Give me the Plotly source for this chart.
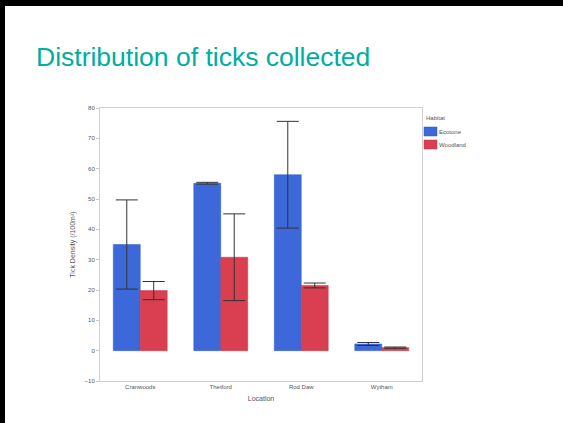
import plotly.graph_objects as go

locations = ["Cranwoods", "Thetford", "Rod Daw", "Wytham"]
ecotone = [35.0, 55.2, 58.0, 2.2]
ecotone_err = [14.7, 0.3, 17.6, 0.5]
woodland = [19.8, 30.8, 21.5, 1.0]
woodland_err = [3.0, 14.3, 0.8, 0.2]
y_ticks = [-10, 0, 10, 20, 30, 40, 50, 60, 70, 80]
series_names = ["Ecotone", "Woodland"]
series_colors = ["#3C68DA", "#D93F50"]
series_edges = ["#3558C0", "#C03444"]

W, H = 563, 423
L, R, T, B = 100, 422, 108, 381

fig = go.Figure()
for name, vals, errs, col, edge in zip(series_names, [ecotone, woodland],
                                       [ecotone_err, woodland_err], series_colors, series_edges):
    fig.add_trace(go.Bar(
        x=locations, y=vals, name=name, showlegend=False,
        marker=dict(color=col, line=dict(color=edge, width=0.5)),
        error_y=dict(type="data", array=errs, color="#333333", thickness=1, width=11),
    ))

def px_x(p):
    return (p - L) / (R - L)

def px_y(p):
    return (B - p) / (B - T)

shapes = [
    dict(type="rect", xref="paper", yref="paper", x0=px_x(0), x1=px_x(W), y0=px_y(0), y1=px_y(6),
         fillcolor="black", line=dict(width=0), layer="above"),
    dict(type="rect", xref="paper", yref="paper", x0=px_x(0), x1=px_x(5), y0=px_y(0), y1=px_y(H),
         fillcolor="black", line=dict(width=0), layer="above"),
]
annotations = [
    dict(text="Habitat", xref="paper", yref="paper", x=px_x(424), y=px_y(118),
         xanchor="left", yanchor="middle", showarrow=False, font=dict(size=6, color="#555555")),
]
for i, (name, col, edge) in enumerate(zip(series_names, series_colors, series_edges)):
    top = 127 + i * 13
    shapes.append(dict(type="rect", xref="paper", yref="paper", x0=px_x(424), x1=px_x(437),
                       y0=px_y(top), y1=px_y(top + 9), fillcolor=col,
                       line=dict(color=edge, width=0.5), layer="above"))
    annotations.append(dict(text=name, xref="paper", yref="paper", x=px_x(437), y=px_y(top + 4.5),
                            xanchor="left", yanchor="middle", showarrow=False,
                            font=dict(size=6, color="#555555")))

fig.update_layout(
    width=W, height=H,
    margin=dict(l=L, r=W - R, t=T, b=H - B, pad=0),
    paper_bgcolor="white", plot_bgcolor="white",
    barmode="group", bargap=0.33, bargroupgap=0,
    font=dict(family="Liberation Sans, Arial, sans-serif", size=6, color="#555555"),
    title=dict(text="Distribution of ticks collected", x=36 / W, xanchor="left",
               y=1 - 57 / H, yanchor="middle",
               font=dict(family="Liberation Sans, Arial, sans-serif", size=26.5, color="#00AE9E")),
    xaxis=dict(showline=True, linecolor="#d0d0d0", linewidth=1, mirror=True, ticks="",
               showgrid=False, title=dict(text="Location", standoff=6)),
    yaxis=dict(range=[-10, 80], tickvals=y_ticks, showgrid=False, zeroline=False,
               showline=True, linecolor="#d0d0d0", linewidth=1, mirror=True,
               ticks="outside", ticklen=3, tickcolor="#c8c8c8",
               title=dict(text="Tick Density (/100m²)", standoff=8)),
    shapes=shapes,
    annotations=annotations,
    showlegend=False,
)

fig.write_html("out.html", config={"displayModeBar": False},
               post_script="document.body.style.margin='0';document.body.style.overflow='hidden';")
